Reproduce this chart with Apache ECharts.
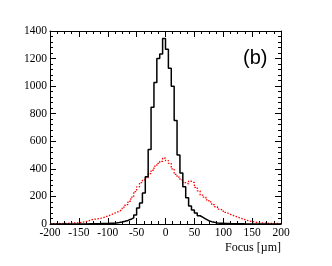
<!DOCTYPE html>
<html>
<head>
<meta charset="utf-8">
<script src="https://cdn.jsdelivr.net/npm/echarts@6/dist/echarts.min.js"></script>
<style>html,body{margin:0;padding:0;background:#fff;}#c{width:332px;height:266px;}</style>
</head>
<body>
<div id="c"></div>
<script>
// Histogram bins: 5 µm wide, from -200 to 200 (left edges)
const binWidth = 5;
const xMin = -200, xMax = 200;
const xTicks = [-200, -150, -100, -50, 0, 50, 100, 150, 200];
const yTicks = [0, 200, 400, 600, 800, 1000, 1200, 1400];

// Black (solid) histogram counts per bin, left edge -200 ... 195
const blackCounts = [
  0,0,0,0,0,0,0,0,0,0,                         // -200..-155
  0,0,0,1,1,2,2,3,3,4,                         // -150..-105
  5,6,8,11,15,20,26,34,45,65,                  // -100..-55
  116,152,225,343,540,846,1027,1200,1233,1345, // -50..-5
  1267,1129,1000,750,500,370,270,190,130,101,  // 0..45
  80,60,48,36,24,17,12,8,6,5,                  // 50..95
  4,3,2,2,1,1,1,0,0,0,                         // 100..145
  0,0,0,0,0,0,0,0,0,0                          // 150..195
];

// Red (dotted) histogram counts per bin, left edge -200 ... 195
const redCounts = [
  3,2,4,3,5,4,6,8,7,10,                        // -200..-155
  12,15,20,28,34,36,40,43,50,58,               // -150..-105
  65,75,85,92,105,122,140,165,195,235,         // -100..-55
  270,300,320,335,365,390,420,440,455,478,     // -50..-5
  460,440,400,360,340,320,300,290,310,300,     // 0..45
  265,240,210,195,175,160,140,125,108,100,     // 50..95
  85,75,65,58,50,42,35,28,22,18,               // 100..145
  14,10,9,7,6,5,4,4,3,2                        // 150..195
];

function toSteps(counts) {
  const pts = counts.map((v, i) => [xMin + i * binWidth, v]);
  pts.push([xMax, counts[counts.length - 1]]);
  return pts;
}

const chart = echarts.init(document.getElementById('c'), null, {renderer: 'canvas'});
const serif = '"Liberation Serif", "DejaVu Serif", serif';
const lblStyle = {color: '#000', fontFamily: serif, fontSize: 11.5};

const baseX = {
  type: 'value', min: xMin, max: xMax, interval: 50,
  axisLine: {show: true, onZero: false, lineStyle: {color: '#000', width: 1}},
  axisTick: {show: true, inside: true, length: 6, lineStyle: {color: '#000'}},
  minorTick: {show: true, splitNumber: 4, length: 3, lineStyle: {color: '#000'}},
  splitLine: {show: false}
};
const baseY = {
  type: 'value', min: 0, max: 1400, interval: 200,
  axisLine: {show: true, onZero: false, lineStyle: {color: '#000', width: 1}},
  axisTick: {show: true, inside: true, length: 6, lineStyle: {color: '#000'}},
  minorTick: {show: true, splitNumber: 5, length: 3, lineStyle: {color: '#000'}},
  splitLine: {show: false}
};

chart.setOption({
  animation: false,
  backgroundColor: '#fff',
  grid: {left: 50, right: 51, top: 31, bottom: 42},
  xAxis: [
    Object.assign({}, baseX, {
      position: 'bottom',
      axisLabel: Object.assign({margin: 3, showMinLabel: true, showMaxLabel: true,
        formatter: v => (xTicks.includes(v) ? String(v) : '')}, lblStyle),
      name: 'Focus [\u00b5m]', nameLocation: 'end', nameGap: 0,
      nameTextStyle: {color: '#000', fontFamily: serif, fontSize: 12, align: 'right', verticalAlign: 'top', padding: [18, 0, 0, 0]}
    }),
    Object.assign({}, baseX, {position: 'top', axisLabel: {show: false}})
  ],
  yAxis: [
    Object.assign({}, baseY, {
      position: 'left',
      axisLabel: Object.assign({margin: 3, showMinLabel: true, showMaxLabel: true,
        formatter: v => (yTicks.includes(v) ? String(v) : '')}, lblStyle)
    }),
    Object.assign({}, baseY, {position: 'right', axisLabel: {show: false}})
  ],
  graphic: [{
    type: 'text', left: 243, top: 48,
    style: {text: '(b)', fill: '#000', font: '20px "Liberation Sans", Arial, sans-serif'}
  }],
  series: [
    {
      type: 'line', step: 'end', data: toSteps(redCounts), symbol: 'none',
      lineStyle: {color: '#ff0000', width: 1.3, type: [1.5, 1.5]}, z: 2
    },
    {
      type: 'line', step: 'end', data: toSteps(blackCounts), symbol: 'none',
      lineStyle: {color: '#000', width: 1.5}, z: 3
    }
  ]
});
</script>
</body>
</html>
